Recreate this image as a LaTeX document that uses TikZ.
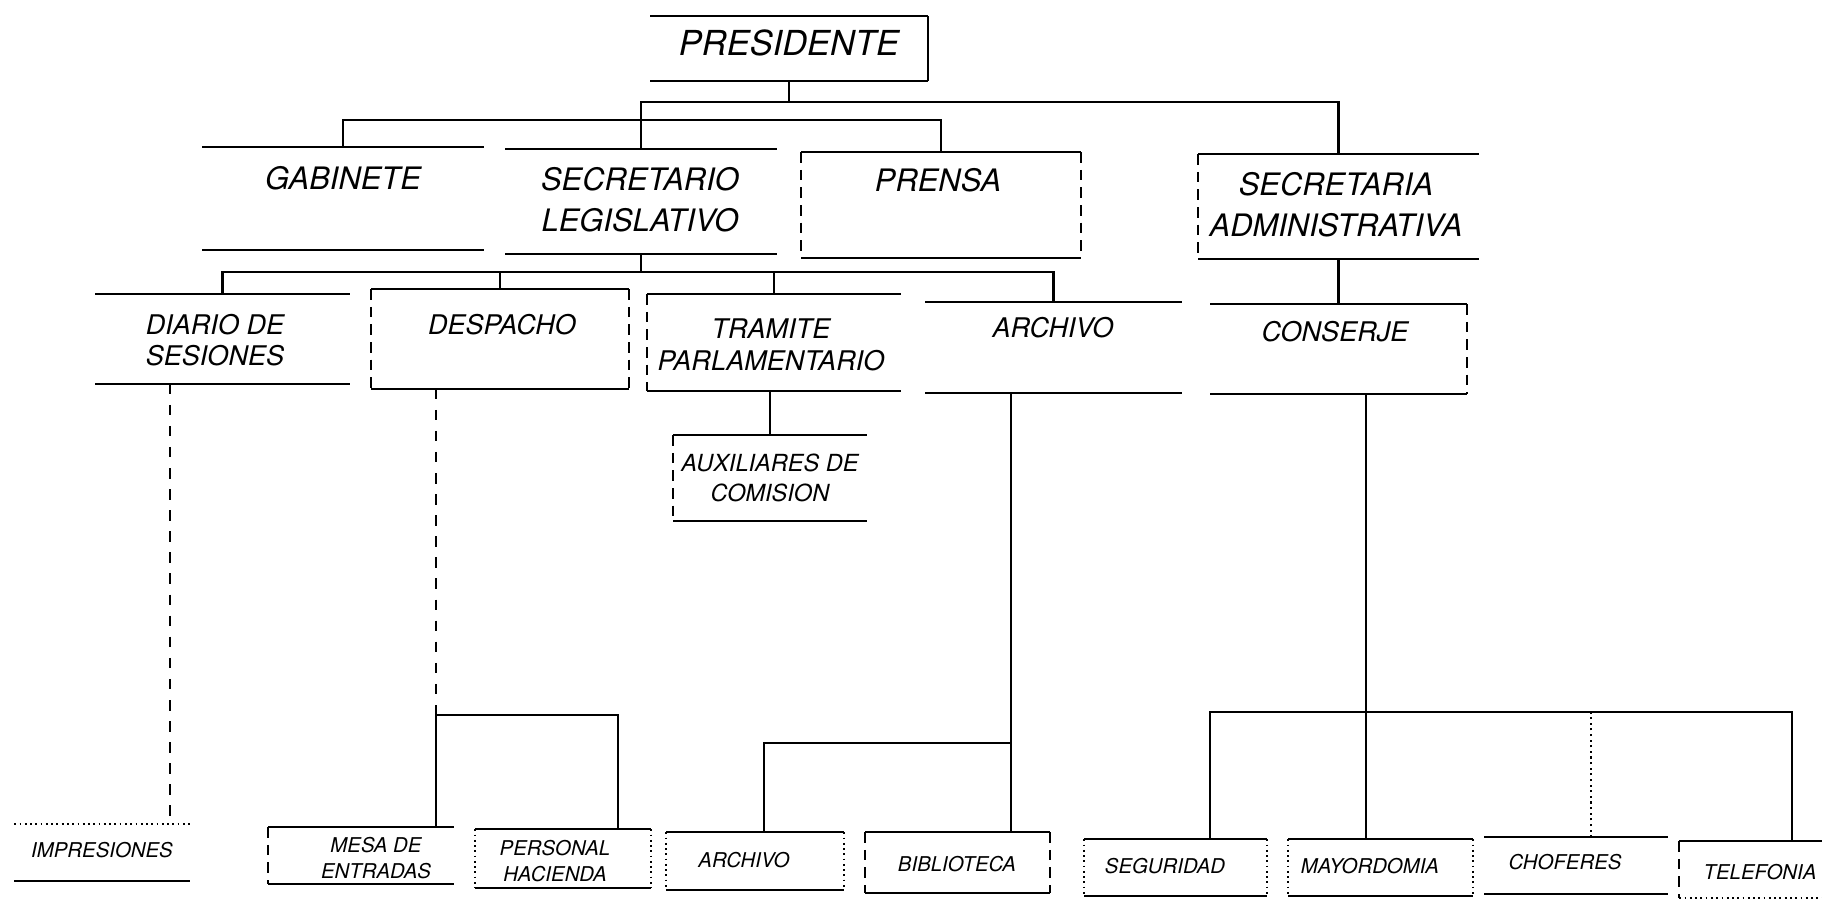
\documentclass[tikz,border=0pt]{standalone}
\usepackage{fontspec}
\setmainfont{TeX Gyre Heros}

\tikzset{
  unit/.style={draw=none, inner sep=0pt},
  hbar/.style={line width=0.6pt},
  vbar/.style={line width=0.5pt, densely dashed},
  vdot/.style={line width=0.5pt, densely dotted},
  link/.style={line width=0.6pt},
  dlink/.style={line width=0.6pt, dashed},
  olink/.style={line width=0.6pt, densely dotted},
  lvone/.style={inner sep=0pt, font=\fontsize{9.8}{11}\selectfont\itshape},
  lvtwo/.style={inner sep=0pt, align=center, font=\fontsize{8.8}{11.7}\selectfont\itshape},
  lvthree/.style={inner sep=0pt, align=center, font=\fontsize{7.7}{9}\selectfont\itshape},
  lvaux/.style={inner sep=0pt, align=center, font=\fontsize{6.7}{8.3}\selectfont\itshape},
  lvfour/.style={inner sep=0pt, align=center, font=\fontsize{5.8}{7.4}\selectfont\itshape}
}

\begin{document}
\begin{tikzpicture}
    \useasboundingbox (0,0) rectangle (18.22,-8.99);

    % Boxes
    \node[unit, minimum width=2.76cm, minimum height=0.63cm] (presbox) at (7.89,-0.485) {};
    \node[unit, minimum width=2.80cm, minimum height=1.01cm] (gabbox) at (3.43,-1.985) {};
    \node[unit, minimum width=2.70cm, minimum height=1.03cm] (secbox) at (6.41,-2.015) {};
    \node[unit, minimum width=2.78cm, minimum height=1.04cm] (prebox) at (9.41,-2.05) {};
    \node[unit, minimum width=2.79cm, minimum height=1.03cm] (admbox) at (13.385,-2.065) {};
    \node[unit, minimum width=2.53cm, minimum height=0.88cm] (diabox) at (2.225,-3.39) {};
    \node[unit, minimum width=2.56cm, minimum height=0.98cm] (desbox) at (5.00,-3.39) {};
    \node[unit, minimum width=2.52cm, minimum height=0.95cm] (trabox) at (7.74,-3.425) {};
    \node[unit, minimum width=2.55cm, minimum height=0.89cm] (arcbox) at (10.535,-3.475) {};
    \node[unit, minimum width=2.55cm, minimum height=0.88cm] (conbox) at (13.385,-3.49) {};
    \node[unit, minimum width=1.92cm, minimum height=0.84cm] (auxbox) at (7.70,-4.78) {};
    \node[unit, minimum width=1.74cm, minimum height=0.55cm] (impbox) at (1.02,-8.525) {};
    \node[unit, minimum width=1.84cm, minimum height=0.55cm] (mesbox) at (3.61,-8.555) {};
    \node[unit, minimum width=1.74cm, minimum height=0.57cm] (perbox) at (5.63,-8.585) {};
    \node[unit, minimum width=1.76cm, minimum height=0.56cm] (artbox) at (7.55,-8.61) {};
    \node[unit, minimum width=1.83cm, minimum height=0.59cm] (bibbox) at (9.575,-8.625) {};
    \node[unit, minimum width=1.81cm, minimum height=0.55cm] (segbox) at (11.755,-8.675) {};
    \node[unit, minimum width=1.83cm, minimum height=0.55cm] (maybox) at (13.805,-8.675) {};
    \node[unit, minimum width=1.82cm, minimum height=0.55cm] (chobox) at (15.76,-8.655) {};
    \node[unit, minimum width=1.42cm, minimum height=0.55cm] (telbox) at (17.51,-8.695) {};

    % Box edges
    \draw[hbar] (presbox.north west) -- (presbox.north east) (presbox.south west) -- (presbox.south east);
    \draw[hbar] (presbox.north east) -- (presbox.south east);
    \draw[hbar] (gabbox.north west) -- (gabbox.north east) (gabbox.south west) -- (gabbox.south east);
    \draw[hbar] (secbox.north west) -- (secbox.north east) (secbox.south west) -- (secbox.south east);
    \draw[hbar] (prebox.north west) -- (prebox.north east) (prebox.south west) -- (prebox.south east);
    \draw[vbar] (prebox.north west) -- (prebox.south west) (prebox.north east) -- (prebox.south east);
    \draw[hbar] (admbox.north west) -- (admbox.north east) (admbox.south west) -- (admbox.south east);
    \draw[vbar] (admbox.north west) -- (admbox.south west);
    \draw[hbar] (diabox.north west) -- (diabox.north east) (diabox.south west) -- (diabox.south east);
    \draw[hbar] (desbox.north west) -- (desbox.north east) (desbox.south west) -- (desbox.south east);
    \draw[vbar] (desbox.north west) -- (desbox.south west) (desbox.north east) -- (desbox.south east);
    \draw[hbar] (trabox.north west) -- (trabox.north east) (trabox.south west) -- (trabox.south east);
    \draw[vbar] (trabox.north west) -- (trabox.south west);
    \draw[hbar] (arcbox.north west) -- (arcbox.north east) (arcbox.south west) -- (arcbox.south east);
    \draw[hbar] (conbox.north west) -- (conbox.north east) (conbox.south west) -- (conbox.south east);
    \draw[vbar] (conbox.north east) -- (conbox.south east);
    \draw[hbar] (auxbox.north west) -- (auxbox.north east) (auxbox.south west) -- (auxbox.south east);
    \draw[vbar] (auxbox.north west) -- (auxbox.south west);
    \draw[vdot] (impbox.north west) -- (impbox.north east);
    \draw[hbar] (impbox.south west) -- (impbox.south east);
    \draw[hbar] (mesbox.north west) -- (mesbox.north east) (mesbox.south west) -- (mesbox.south east);
    \draw[vbar] (mesbox.north west) -- (mesbox.south west);
    \draw[hbar] (perbox.north west) -- (perbox.north east) (perbox.south west) -- (perbox.south east);
    \draw[vdot] (perbox.north west) -- (perbox.south west) (perbox.north east) -- (perbox.south east);
    \draw[hbar] (artbox.north west) -- (artbox.north east) (artbox.south west) -- (artbox.south east);
    \draw[vdot] (artbox.north west) -- (artbox.south west) (artbox.north east) -- (artbox.south east);
    \draw[hbar] (bibbox.north west) -- (bibbox.north east) (bibbox.south west) -- (bibbox.south east);
    \draw[vbar] (bibbox.north west) -- (bibbox.south west) (bibbox.north east) -- (bibbox.south east);
    \draw[hbar] (segbox.north west) -- (segbox.north east) (segbox.south west) -- (segbox.south east);
    \draw[vdot] (segbox.north west) -- (segbox.south west) (segbox.north east) -- (segbox.south east);
    \draw[hbar] (maybox.north west) -- (maybox.north east) (maybox.south west) -- (maybox.south east);
    \draw[vdot] (maybox.north west) -- (maybox.south west) (maybox.north east) -- (maybox.south east);
    \draw[hbar] (chobox.north west) -- (chobox.north east) (chobox.south west) -- (chobox.south east);
    \draw[hbar] (telbox.north west) -- (telbox.north east);
    \draw[vdot] (telbox.south west) -- (telbox.south east);
    \draw[vbar] (telbox.north west) -- (telbox.south west);

    % Labels
    \node[lvone] (tpres) at (7.89,-0.43) {PRESIDENTE};
    \node[lvtwo] (tgab) at (3.43,-1.78) {GABINETE};
    \node[lvtwo] (tsec) at (6.40,-2.00) {SECRETARIO\\LEGISLATIVO};
    \node[lvtwo] (tpre) at (9.38,-1.80) {PRENSA};
    \node[lvtwo] (tadm) at (13.36,-2.05) {SECRETARIA\\ADMINISTRATIVA};
    \node[lvthree] (tdia) at (2.15,-3.40) {DIARIO DE\\SESIONES};
    \node[lvthree] (tdes) at (5.02,-3.25) {DESPACHO};
    \node[lvthree] (ttra) at (7.71,-3.45) {TRAMITE\\PARLAMENTARIO};
    \node[lvthree] (tarc) at (10.53,-3.28) {ARCHIVO};
    \node[lvthree] (tcon) at (13.35,-3.32) {CONSERJE};
    \node[lvaux] (taux) at (7.70,-4.78) {AUXILIARES DE\\COMISION};
    \node[lvfour] (timp) at (1.02,-8.50) {IMPRESIONES};
    \node[lvfour] (tmes) at (3.76,-8.58) {MESA DE\\ENTRADAS};
    \node[lvfour] (tper) at (5.55,-8.61) {PERSONAL\\HACIENDA};
    \node[lvfour] (tart) at (7.44,-8.60) {ARCHIVO};
    \node[lvfour] (tbib) at (9.57,-8.64) {BIBLIOTECA};
    \node[lvfour] (tseg) at (11.65,-8.66) {SEGURIDAD};
    \node[lvfour] (tmay) at (13.70,-8.66) {MAYORDOMIA};
    \node[lvfour] (tcho) at (15.65,-8.62) {CHOFERES};
    \node[lvfour] (ttel) at (17.60,-8.72) {TELEFONIA};

    % Connectors
    \coordinate (busa) at (7.89,-1.02);
    \coordinate (busb) at (6.41,-1.20);
    \coordinate (busc) at (6.41,-2.72);
    \coordinate (busd) at (4.36,-7.15);
    \coordinate (buse) at (10.11,-7.43);
    \coordinate (busf) at (13.66,-7.12);
    \draw[link] (presbox.south) -- (busa);
    \draw[link] (gabbox.north) |- (busb) -| (prebox.north);
    \draw[link] (secbox.north) -- (busb) |- (busa) -| (admbox.north);
    \draw[link] (secbox.south) -- (busc);
    \draw[link] (diabox.north) |- (busc) -| (arcbox.north);
    \draw[link] (desbox.north) -- (desbox.north |- busc);
    \draw[link] (trabox.north) -- (trabox.north |- busc);
    \draw[link] (admbox.south) -- (conbox.north);
    \draw[link] (trabox.south -| auxbox.north) -- (auxbox.north);
    \draw[dlink] (diabox.south -| 1.70,0) -- (impbox.north -| 1.70,0);
    \draw[dlink] (desbox.south -| busd) -- (busd);
    \draw[link] (busd) -- (mesbox.north -| busd);
    \draw[link] (busd) -| (perbox.north -| 6.18,0);
    \draw[link] (arcbox.south -| buse) -- (bibbox.north -| buse);
    \draw[link] (buse) -| (artbox.north -| 7.64,0);
    \draw[link] (conbox.south -| busf) -- (maybox.north -| busf);
    \draw[link] (segbox.north -| 12.10,0) |- (busf) -| (telbox.north -| 17.92,0);
    \draw[olink] (chobox.north -| 15.91,0) -- (busf -| 15.91,0);
\end{tikzpicture}
\end{document}
